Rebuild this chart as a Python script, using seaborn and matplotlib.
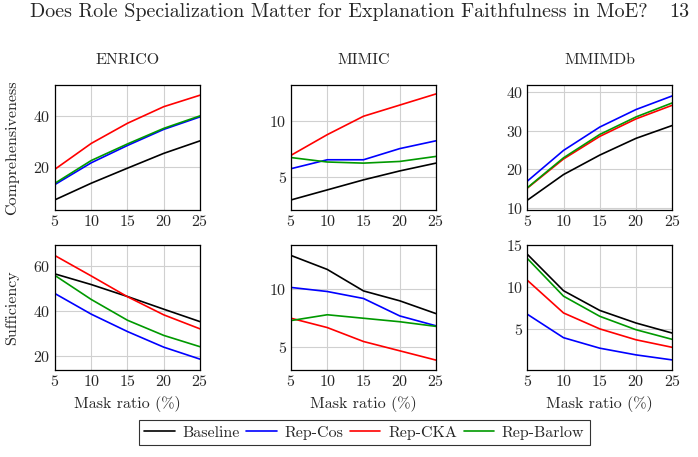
import pandas as pd
import numpy as np
import matplotlib
matplotlib.use('Agg')
import matplotlib.pyplot as plt
import seaborn as sns

sns.set_style('white')
plt.rcParams['font.family'] = ['cmr10', 'DejaVu Serif']
plt.rcParams['axes.formatter.use_mathtext'] = True
plt.rcParams['mathtext.fontset'] = 'cm'

# 값은 그림에서 읽어옴
mask_ratio = [5, 10, 15, 20, 25]
methods = ['Baseline', 'Rep-Cos', 'Rep-CKA', 'Rep-Barlow']
datasets = ['ENRICO', 'MIMIC', 'MMIMDb']

# Comprehensiveness
enrico_comp = {
    'Baseline':   [7.0, 13.5, 19.4, 25.2, 30.1],
    'Rep-Cos':    [13.0, 21.5, 28.3, 34.6, 39.5],
    'Rep-CKA':    [19.0, 29.1, 37.0, 43.5, 48.0],
    'Rep-Barlow': [13.5, 22.4, 28.9, 35.0, 39.9],
}
mimic_comp = {
    'Baseline':   [2.9, 3.8, 4.7, 5.5, 6.2],
    'Rep-Cos':    [5.7, 6.5, 6.5, 7.5, 8.2],
    'Rep-CKA':    [6.9, 8.75, 10.4, 11.4, 12.4],
    'Rep-Barlow': [6.7, 6.3, 6.2, 6.35, 6.8],
}
mmimdb_comp = {
    'Baseline':   [12.1, 18.7, 23.7, 28.0, 31.3],
    'Rep-Cos':    [17.0, 24.9, 30.9, 35.4, 38.9],
    'Rep-CKA':    [15.2, 22.7, 28.5, 33.0, 36.5],
    'Rep-Barlow': [15.3, 23.0, 29.0, 33.5, 37.1],
}

# Sufficiency
enrico_suff = {
    'Baseline':   [56.5, 51.8, 46.5, 40.9, 35.4],
    'Rep-Cos':    [47.8, 38.7, 31.0, 24.1, 18.8],
    'Rep-CKA':    [64.6, 55.6, 46.4, 38.4, 32.2],
    'Rep-Barlow': [55.8, 45.2, 36.0, 29.3, 24.3],
}
mimic_suff = {
    'Baseline':   [12.9, 11.7, 9.85, 9.0, 7.9],
    'Rep-Cos':    [10.15, 9.8, 9.2, 7.7, 6.85],
    'Rep-CKA':    [7.5, 6.7, 5.5, 4.7, 3.9],
    'Rep-Barlow': [7.3, 7.8, 7.5, 7.2, 6.8],
}
mmimdb_suff = {
    'Baseline':   [13.9, 9.55, 7.2, 5.7, 4.5],
    'Rep-Cos':    [6.75, 3.95, 2.7, 1.9, 1.3],
    'Rep-CKA':    [10.8, 6.9, 5.0, 3.7, 2.8],
    'Rep-Barlow': [13.4, 8.9, 6.5, 4.9, 3.75],
}

colors = {'Baseline': 'black', 'Rep-Cos': '#0000ff', 'Rep-CKA': '#ff0000', 'Rep-Barlow': '#009900'}

panels = [
    [(enrico_comp, (3, 52), [20, 40]), (mimic_comp, (2, 13.2), [5, 10]), (mmimdb_comp, (9.6, 41.7), [10, 20, 30, 40])],
    [(enrico_suff, (14, 69.3), [20, 40, 60]), (mimic_suff, (3.05, 13.8), [5, 10]), (mmimdb_suff, (0.1, 15.0), [5, 10, 15])],
]

fs = 11.5
fig = plt.figure(figsize=(6.98, 4.57), dpi=100)
lefts = [0.0788, 0.4169, 0.7554]
bottoms = [0.5405, 0.1904]
w, h = 0.2077, 0.2735

for r in range(2):
    for c in range(3):
        data, ylim, yticks = panels[r][c]
        ax = fig.add_axes([lefts[c], bottoms[r], w, h])
        df = pd.DataFrame([
            {'mask': m, 'value': v, 'method': k}
            for k in methods for m, v in zip(mask_ratio, data[k])
        ])
        sns.lineplot(data=df, x='mask', y='value', hue='method', hue_order=methods,
                     palette=colors, linewidth=1.2, ax=ax, legend=False)
        ax.set_xlim(5, 25)
        ax.set_ylim(*ylim)
        ax.set_xticks(mask_ratio)
        ax.set_yticks(yticks)
        ax.grid(True, color='#d0d0d0', linewidth=0.8)
        ax.set_axisbelow(True)
        for s in ax.spines.values():
            s.set_color('black')
            s.set_linewidth(0.9)
        ax.tick_params(labelsize=fs, length=0, pad=3)
        ax.set_xlabel('Mask ratio (%)' if r == 1 else '', fontsize=fs, labelpad=5)
        ax.set_ylabel('')
        if r == 0:
            ax.set_title(datasets[c], fontsize=fs, pad=15)
        if c == 0:
            ax.set_ylabel('Comprehensiveness' if r == 0 else 'Sufficiency', fontsize=fs, labelpad=10)

# 범례
handles = [plt.Line2D([], [], color=colors[k], linewidth=1.2) for k in methods]
leg = fig.legend(handles, methods, loc='center', bbox_to_anchor=(0.522, 0.053), ncol=4,
                 frameon=True, fancybox=False, edgecolor='black', fontsize=fs,
                 handlelength=1.9, handletextpad=0.5, columnspacing=0.4, borderpad=0.35,
                 borderaxespad=0)
leg.get_frame().set_linewidth(0.8)

# 페이지 헤더
fig.text(0.486, 0.973, 'Does Role Specialization Matter for Explanation Faithfulness in MoE?',
         ha='center', va='center', fontsize=14.4)
fig.text(0.988, 0.973, '13', ha='right', va='center', fontsize=14.4)

fig.savefig('out.png', dpi=100)
